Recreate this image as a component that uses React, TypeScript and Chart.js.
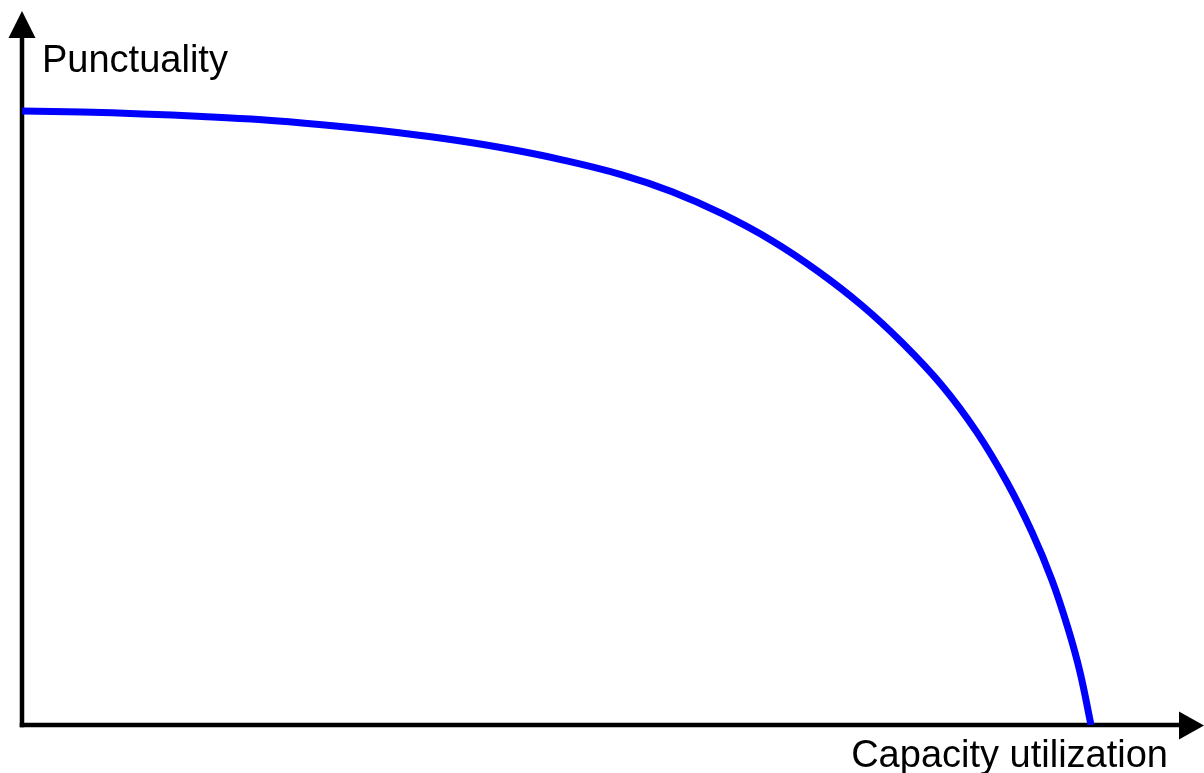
import React, { useEffect, useRef } from "react";
import Chart from "chart.js/auto";

// Capacity utilization (x, 0..100 along the axis) and punctuality (y, 0..100)
const utilization = [0, 5.08, 10.15, 15.23, 20.3, 25.38, 30.46, 35.53, 40.61, 45.69, 50.76, 55.0, 59.22, 63.45, 67.26, 71.07, 74.45, 77.83, 80.79, 83.33, 85.45, 87.14, 88.49, 89.51, 90.44];
const punctuality = [86.01, 85.85, 85.59, 85.24, 84.78, 84.08, 83.22, 82.17, 80.84, 79.16, 77.06, 74.69, 71.61, 67.83, 63.64, 58.74, 53.57, 47.55, 40.98, 33.99, 26.99, 20.28, 13.57, 7.41, 0];

const yAxisTitle = "Punctuality";
const xAxisTitle = "Capacity utilization";

const W = 1204;
const H = 773;

const axesPlugin = {
  id: "arrowAxes",
  beforeDatasetsDraw(chart: any) {
    const ctx = chart.ctx as CanvasRenderingContext2D;
    const a = chart.chartArea;
    const x0 = a.left;
    const y0 = a.bottom;
    ctx.save();
    ctx.strokeStyle = "#000";
    ctx.fillStyle = "#000";
    ctx.lineWidth = 4.5;
    ctx.lineCap = "butt";
    // y axis
    ctx.beginPath();
    ctx.moveTo(x0, y0 + 2.25);
    ctx.lineTo(x0, a.top + 26);
    ctx.stroke();
    // x axis
    ctx.beginPath();
    ctx.moveTo(x0 - 2.25, y0);
    ctx.lineTo(a.right - 22, y0);
    ctx.stroke();
    // y arrow head
    ctx.beginPath();
    ctx.moveTo(x0, a.top);
    ctx.lineTo(x0 - 13.5, a.top + 27);
    ctx.lineTo(x0 + 13.5, a.top + 27);
    ctx.closePath();
    ctx.fill();
    // x arrow head
    ctx.beginPath();
    ctx.moveTo(a.right, y0 + 0.5);
    ctx.lineTo(a.right - 25, y0 - 13.5);
    ctx.lineTo(a.right - 25, y0 + 14.5);
    ctx.closePath();
    ctx.fill();
    // titles
    ctx.font = '38px "Liberation Sans", Arial, sans-serif';
    ctx.textBaseline = "alphabetic";
    ctx.textAlign = "left";
    ctx.fillText(yAxisTitle, x0 + 20, 72);
    ctx.textAlign = "right";
    ctx.fillText(xAxisTitle, 1168, 767);
    ctx.restore();
  },
};

export default function App() {
  const ref = useRef<HTMLCanvasElement | null>(null);
  useEffect(() => {
    if (!ref.current) return;
    const chart = new Chart(ref.current, {
      type: "scatter",
      data: {
        datasets: [
          {
            data: utilization.map((x, i) => ({ x, y: punctuality[i] })),
            showLine: true,
            borderColor: "#0000ff",
            borderWidth: 7,
            pointRadius: 0,
            pointHoverRadius: 0,
            tension: 0.4,
            fill: false,
          },
        ],
      },
      options: {
        animation: false,
        responsive: false,
        devicePixelRatio: 1,
        layout: { padding: { left: 22, top: 11, right: 0, bottom: 48 } },
        plugins: { legend: { display: false }, tooltip: { enabled: false } },
        scales: {
          x: { type: "linear", min: 0, max: 100, display: false },
          y: { type: "linear", min: 0, max: 100, display: false },
        },
        events: [],
      },
      plugins: [axesPlugin],
    } as any);
    return () => chart.destroy();
  }, []);
  return (
    <div style={{ position: "fixed", left: 0, top: 0, width: W, height: H, background: "#fff" }}>
      <canvas ref={ref} width={W} height={H} style={{ width: W, height: H, display: "block" }} />
    </div>
  );
}
